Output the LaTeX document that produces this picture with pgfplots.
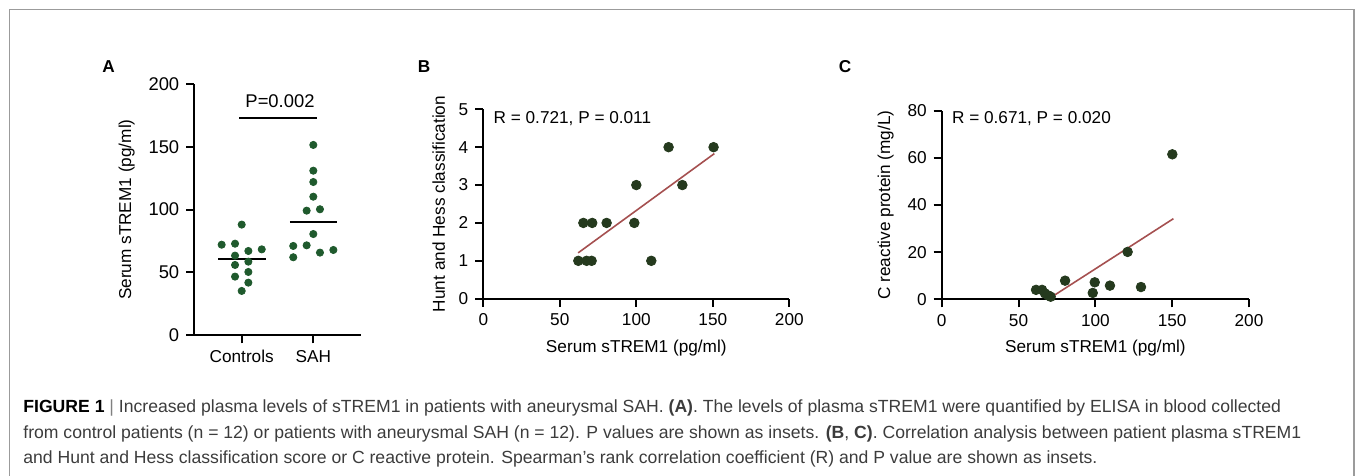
\documentclass[border=0pt]{standalone}
\usepackage{pgfplots}
\pgfplotsset{compat=1.18}
\usepackage{fontspec}
\setmainfont{Liberation Sans}
\definecolor{dotA}{RGB}{31,90,45}
\definecolor{dotB}{RGB}{37,58,30}
\definecolor{fitline}{RGB}{165,80,80}
\definecolor{captxt}{RGB}{60,60,60}
\definecolor{framec}{RGB}{155,155,155}

\newcommand{\lbl}{\fontsize{8.6}{10}\selectfont}
\newcommand{\lblA}{\fontsize{9.2}{11}\selectfont}

\pgfplotsset{
  gp/.style={
    scale only axis,
    axis lines=left,
    axis line style={-, line width=1pt, black},
    tick style={line width=1pt, black},
    major tick length=4pt,
    tick align=outside,
    /pgf/number format/assume math mode=true,
    tick label style={font=\lbl},
    label style={font=\lbl},
    clip=false,
  },
}

\begin{document}
\begin{tikzpicture}
\useasboundingbox (0,0) rectangle (677.5pt,238pt);
\draw[framec, line width=0.6pt] (4.75pt,0) -- (4.75pt,233.25pt) -- (677pt,233.25pt) -- (677pt,0);

% panel letters
\node[font=\fontsize{8.6}{9}\selectfont\bfseries] at (54.25pt,204.5pt) {A};
\node[font=\fontsize{8.6}{9}\selectfont\bfseries] at (212pt,204.5pt) {B};
\node[font=\fontsize{8.6}{9}\selectfont\bfseries] at (422.5pt,204.5pt) {C};

% A
\begin{axis}[gp,
  at={(97.15pt,70.35pt)}, anchor=south west,
  width=83.35pt, height=125.65pt,
  xmin=0.338, xmax=2.666, ymin=0, ymax=200,
  xtick={1,2}, xticklabels={Controls,SAH},
  ytick={0,50,100,150,200},
  yticklabel style={font=\lblA},
  ylabel={Serum sTREM1 (pg/ml)},
]
\addplot[only marks, mark=*, mark size=1.8pt, color=dotA] coordinates {
  (0.720,72.1) (0.907,72.9) (1.280,68.4) (1.093,67.1) (0.907,63.4) (1.093,58.6)
  (0.907,56.0) (1.093,50.4) (0.907,46.7) (1.093,41.9) (1.000,35.3) (1.000,88.1)
};
\addplot[only marks, mark=*, mark size=1.8pt, color=dotA] coordinates {
  (2.000,151.5) (2.000,131.0) (2.000,122.0) (2.000,110.3) (1.907,99.2) (2.093,100.3)
  (2.000,80.6) (1.907,71.6) (1.720,71.1) (1.720,62.1) (2.093,65.8) (2.280,67.9)
};
\addplot[black, line width=1pt] coordinates {(0.674,60.7) (1.335,60.7)};
\addplot[black, line width=1pt] coordinates {(1.674,89.9) (2.335,89.9)};
\addplot[black, line width=1pt] coordinates {(0.967,173) (2.056,173)};
\node[font=\lblA] at (axis cs:1.535,186) {P=0.002};
\end{axis}

% B
\begin{axis}[gp,
  at={(241.65pt,88.65pt)}, anchor=south west,
  width=153pt, height=94.7pt,
  xmin=0, xmax=200, ymin=0, ymax=5,
  xtick={0,50,100,150,200}, ytick={0,1,2,3,4,5},
  xlabel={Serum sTREM1 (pg/ml)},
  ylabel={Hunt and Hess classification},
]
\addplot[fitline, line width=0.8pt] coordinates {(62,1.21) (151,3.83)};
\addplot[only marks, mark=*, mark size=2.4pt, color=dotB] coordinates {
  (62.1,1) (67.5,1) (70.8,1) (65.4,2) (71.2,2) (80.6,2)
  (98.7,2) (100,3) (130.1,3) (121.1,4) (150.5,4) (109.8,1)
};
\node[font=\lbl, anchor=west, inner sep=0pt] at (axis cs:6.5,4.76) {R = 0.721, P = 0.011};
\end{axis}

% C
\begin{axis}[gp,
  at={(470.85pt,88.35pt)}, anchor=south west,
  width=153.65pt, height=94.3pt,
  xmin=0, xmax=200, ymin=0, ymax=80,
  xtick={0,50,100,150,200}, ytick={0,20,40,60,80},
  xlabel={Serum sTREM1 (pg/ml)},
  ylabel={C reactive protein (mg/L)},
]
\addplot[fitline, line width=0.8pt] coordinates {(69.2,0) (150.8,34.2)};
\addplot[only marks, mark=*, mark size=2.4pt, color=dotB] coordinates {
  (150.1,61.5) (121.0,20.1) (80.3,7.9) (99.6,7.2) (109.5,5.8) (129.7,5.2)
  (98.3,2.7) (61.4,4.0) (65.3,4.0) (67.2,2.5) (69.4,1.6) (70.9,1.1)
};
\node[font=\lbl, anchor=west, inner sep=0pt] at (axis cs:6.5,76.8) {R = 0.671, P = 0.020};
\end{axis}

% caption
\begin{scope}[every node/.style={anchor=west, inner sep=0pt, font=\fontsize{8.8}{10}\selectfont, text=captxt}]
\node at (11.5pt,34pt) {\textbf{\color{black}FIGURE 1} {\color{gray}|} Increased plasma levels of sTREM1 in patients with aneurysmal SAH. \textbf{(A)}. The levels of plasma sTREM1 were quantified by ELISA in blood collected};
\node at (11.5pt,21pt) {from control patients (n = 12) or patients with aneurysmal SAH (n = 12). P values are shown as insets. \textbf{(B}, \textbf{C)}. Correlation analysis between patient plasma sTREM1};
\node at (11.5pt,8.5pt) {and Hunt and Hess classification score or C reactive protein. Spearman’s rank correlation coefficient (R) and P value are shown as insets.};
\end{scope}
\end{tikzpicture}
\end{document}
